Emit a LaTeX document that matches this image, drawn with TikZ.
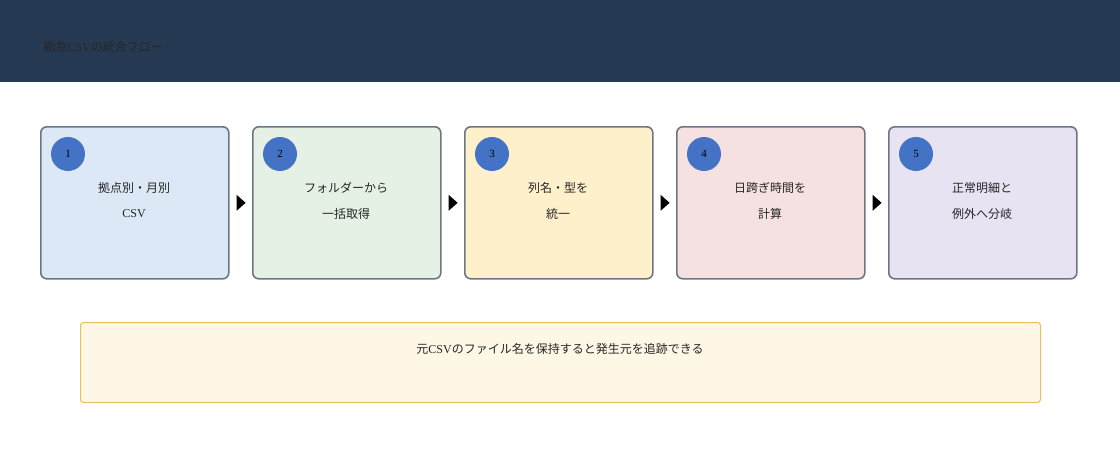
\documentclass[tikz,border=0pt]{standalone}
\usepackage{fontspec}
\setmainfont{Liberation Serif}
\newfontfamily\cjk{Noto Sans CJK JP}
\newcommand{\csvx}{{\rmfamily CSV}}
\begin{document}
\begin{tikzpicture}[x=1pt,y=-1pt,
  stepbox/.style={line width=1.6pt,rounded corners=6pt,minimum width=188pt,minimum height=152pt,anchor=north west},
  num/.style={circle,minimum size=34pt,inner sep=0pt,font=\fontsize{11}{12}\selectfont},
  lab/.style={font=\cjk\fontsize{12}{14}\selectfont,align=center,text=black!85}]
\definecolor{hdr}{HTML}{253A52}
\definecolor{nb}{HTML}{4472C4}
\definecolor{bd}{HTML}{6B7785}
\useasboundingbox (0,0) rectangle (1120,460);
\fill[hdr] (0,0) rectangle (1120,82);
\node[anchor=west,font=\cjk\fontsize{12}{14}\selectfont,text=black!85] (title) at (40,47) {勤怠\csvx の統合フロー};
\foreach \i/\x/\c/\la/\lb in {1/40/DCE8F5/拠点別・月別/\csvx,2/252/E6F1E6/フォルダーから/一括取得,3/464/FFF0CC/列名・型を/統一,4/676/F5E1E1/日跨ぎ時間を/計算,5/888/E8E3F2/正常明細と/例外へ分岐}{
  \definecolor{fc}{HTML}{\c}
  \node[stepbox,fill=fc,draw=bd] (s\i) at (\x,126) {};
  \node[num,fill=nb] (n\i) at (\x+28,154) {\i};
  \node[lab] (a\i) at (\x+94,188) {\la};
  \node[lab] (b\i) at (\x+94,214) {\lb};
}
\foreach \i in {1,2,3,4}{
  \coordinate (t\i) at ([xshift=7pt]s\i.east);
  \fill (t\i) ++(0,-8) -- ++(9,8) -- ++(-9,8) -- cycle;
}
\definecolor{nfill}{HTML}{FEF7E5}
\definecolor{nbd}{HTML}{E5C062}
\node[draw=nbd,fill=nfill,line width=1pt,rounded corners=3pt,minimum width=960pt,minimum height=80pt,anchor=north west] (note) at (80,322) {};
\node[lab] (notet) at (560,349) {元\csvx のファイル名を保持すると発生元を追跡できる};
\end{tikzpicture}
\end{document}
